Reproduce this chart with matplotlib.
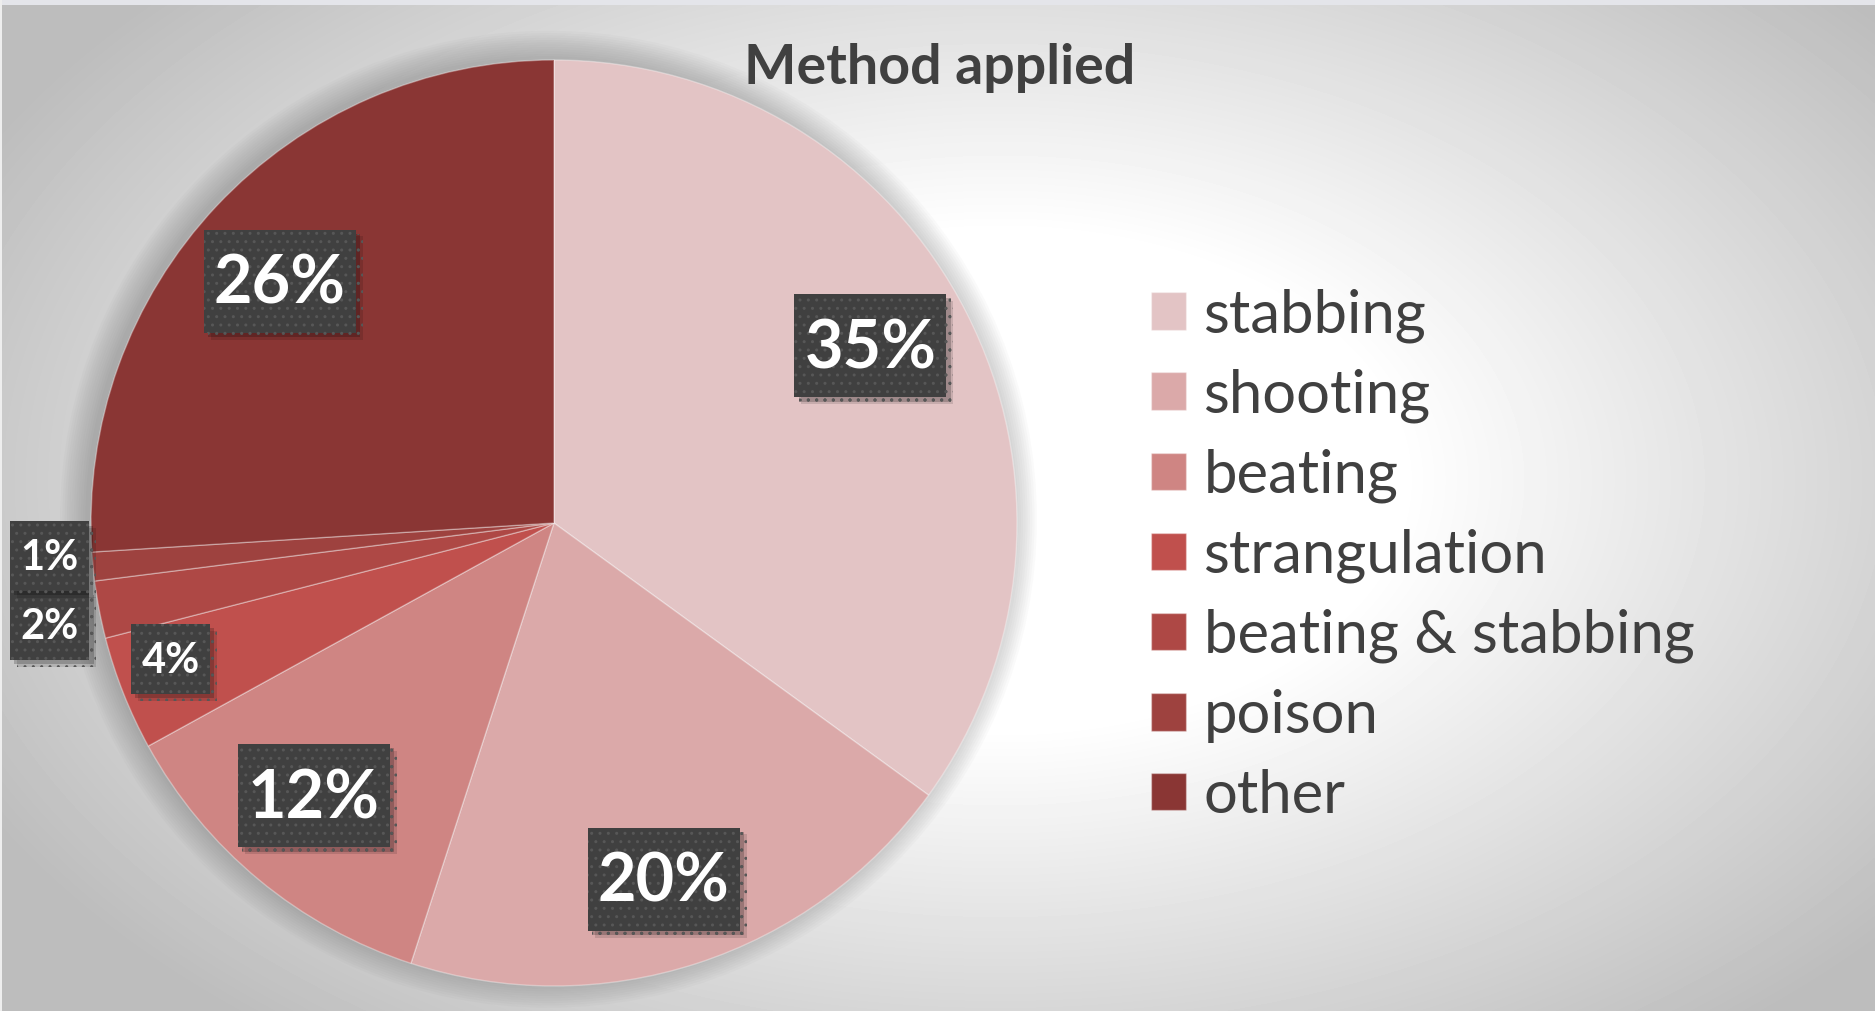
import numpy as np
import matplotlib.pyplot as plt
import matplotlib.patches as patches
import matplotlib.patheffects as pe
from matplotlib.path import Path

plt.rcParams['font.family'] = ['Lato', 'DejaVu Sans']

# 데이터
methods = ['stabbing', 'shooting', 'beating', 'strangulation',
           'beating & stabbing', 'poison', 'other']
shares = [35, 20, 12, 4, 2, 1, 26]
slice_colors = ['#E3C4C5', '#DBA9A9', '#CF8583', '#C0504D',
                '#AE4845', '#9E423F', '#8A3634']

W, H = 1875, 1011
fig = plt.figure(figsize=(W / 100, H / 100), dpi=100)

# 배경 (방사형 그라데이션)
bg = fig.add_axes([0, 0, 1, 1], zorder=-10)
xx, yy = np.meshgrid(np.arange(W), np.arange(H))
u = (xx - 1000) / 1000
v = (yy - 480) / 620
d = np.sqrt(u ** 2 + v ** 2)
shade = 1 - 0.26 * np.clip((d - 0.4) / 0.75, 0, 1)
bg.imshow(shade, cmap='gray', vmin=0, vmax=1, aspect='auto',
          extent=(0, W, H, 0), interpolation='bilinear')
bg.add_patch(patches.Rectangle((0, 0), W, 5, facecolor='#e4e5ea', edgecolor='none'))
bg.add_patch(patches.Rectangle((0, 0), 2, H, facecolor='#eeeeee', edgecolor='none'))
bg.set_xlim(0, W)
bg.set_ylim(H, 0)
bg.axis('off')

# 파이 차트
cx, cy, r = 554, 523, 463
ax = fig.add_axes([(cx - r) / W, (H - cy - r) / H, 2 * r / W, 2 * r / H])

# 부드러운 그림자 (왼쪽 위로 약간 치우침)
for k in range(12):
    ax.add_patch(patches.Circle((-0.012, 0.008), 1.0 + 0.005 * k,
                                facecolor='#555555', edgecolor='none',
                                alpha=0.028, zorder=0, clip_on=False))

wedges, _ = ax.pie(shares, colors=slice_colors, startangle=90,
                   counterclock=False, radius=1,
                   wedgeprops=dict(edgecolor=(1, 1, 1, 0.35), linewidth=1, zorder=2))
ax.set_xlim(-1, 1)
ax.set_ylim(-1, 1)
ax.set_aspect('equal')
ax.axis('off')


def label_box(px, py, shift=0.05):
    """가로/세로 여백이 다른 사각형 라벨 박스 (위쪽 여백을 조금 더 줌)"""
    def box(x0, y0, width, height, mutation_size):
        dx, dy = px * mutation_size, py * mutation_size
        up = shift * mutation_size
        bx0, by0 = x0 - dx, y0 - dy + up
        bx1, by1 = x0 + width + dx, y0 + height + dy + up
        return Path([(bx0, by0), (bx1, by0), (bx1, by1), (bx0, by1), (bx0, by0)],
                    closed=True)
    return box


# 퍼센트 라벨
label_dist = [0.78, 0.812, 0.79, 0.88, 1.112, 1.092, 0.785]
angle_override = {0: 28.8, 1: -73.0, 2: -131.0, 3: -160.2,
                  4: -168.3, 5: -176.0, 6: 139.0}
for i, (w, val) in enumerate(zip(wedges, shares)):
    ang = (w.theta1 + w.theta2) / 2
    ang = angle_override.get(i, ang)
    x = label_dist[i] * np.cos(np.radians(ang))
    y = label_dist[i] * np.sin(np.radians(ang))
    if val >= 10:
        size, style = 48, label_box(0.15, 0.31)
    else:
        size, style = 30, label_box(0.25, 0.38)
    t = ax.text(x, y, f'{val}%', ha='center', va='center', fontsize=size,
                fontweight='bold', color='white', zorder=5,
                bbox=dict(boxstyle=style, facecolor='#404040',
                          edgecolor='#575757', linewidth=0, hatch='..'))
    t.get_bbox_patch().set_path_effects([
        pe.SimplePatchShadow(offset=(5, -5), shadow_rgbFace='black', alpha=0.12),
        pe.SimplePatchShadow(offset=(3, -3), shadow_rgbFace='black', alpha=0.2),
        pe.Normal()])

# 제목
fig.text(940 / W, 1 - 68 / H, 'Method applied', ha='center', va='center',
         fontsize=40, fontweight='bold', color='#404040')

# 범례
leg = fig.legend(wedges, methods, loc='upper left',
                 bbox_to_anchor=(1151 / W, 1 - 288 / H), frameon=False,
                 fontsize=43, handlelength=0.59, handleheight=0.59,
                 handletextpad=0.29, labelspacing=0.43, borderpad=0,
                 borderaxespad=0)
for txt in leg.get_texts():
    txt.set_color('#404040')

fig.savefig('out.png', dpi=100)
